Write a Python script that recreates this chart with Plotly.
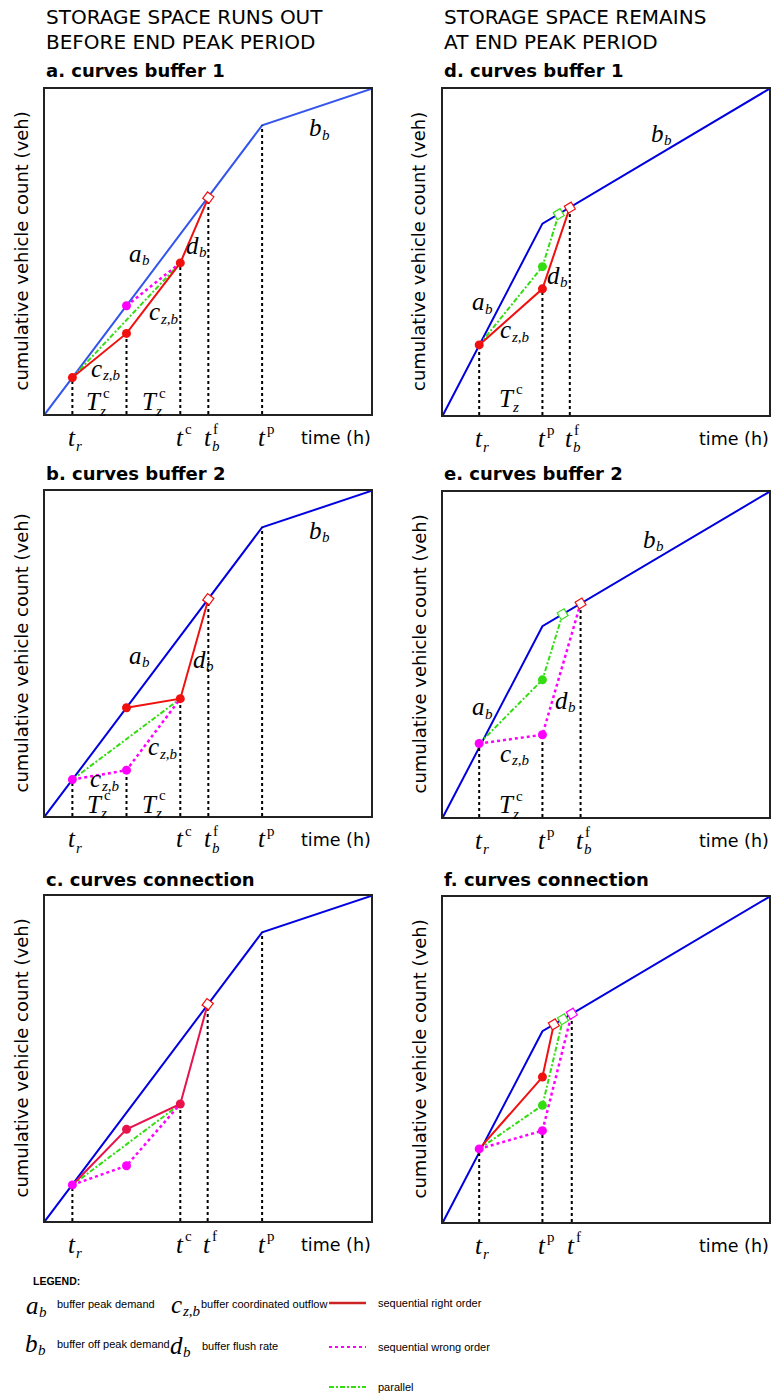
import plotly.graph_objects as go

W, H = 773, 1398

# ---------------- data (schematic units 0..10) ----------------
BLUE_LEFT_X = [0, 6.66, 10]
BLUE_LEFT_Y = [0, 8.88, 10]
BLUE_RIGHT_X = [0, 3.05, 10]
BLUE_RIGHT_Y = [0, 5.87, 10]

# panel a
a_red_x = [0.84, 2.5, 4.15, 5.01]
a_red_y = [1.12, 2.48, 4.65, 6.66]
a_mag_x = [2.5, 4.15]
a_mag_y = [3.33, 4.65]
a_grn_x = [0.84, 4.15]
a_grn_y = [1.12, 4.65]
a_reddot_x = [0.84, 2.5, 4.15]
a_reddot_y = [1.12, 2.48, 4.65]
a_magdot_x = [2.5]
a_magdot_y = [3.33]
a_diam_x = [5.01]
a_diam_y = [6.66]
a_vl_x = [0.84, 2.5, 4.15, 5.01, 6.66]
a_vl_top = [1.12, 2.48, 4.65, 6.66, 8.88]

# panel b
b_red_x = [2.5, 4.15, 5.01]
b_red_y = [3.33, 3.61, 6.67]
b_grn_x = [0.84, 4.15]
b_grn_y = [1.12, 3.61]
b_mag_x = [0.84, 2.5, 4.15]
b_mag_y = [1.12, 1.41, 3.61]
b_reddot_x = [2.5, 4.15]
b_reddot_y = [3.33, 3.61]
b_magdot_x = [0.84, 2.5]
b_magdot_y = [1.12, 1.41]
b_diam_x = [5.01]
b_diam_y = [6.67]
b_vl_x = [0.84, 2.5, 4.15, 5.01, 6.66]
b_vl_top = [1.12, 1.41, 3.61, 6.67, 8.88]

# panel c
c_red_x = [0.84, 2.5, 4.15, 4.99]
c_red_y = [1.11, 2.82, 3.6, 6.67]
c_grn_x = [0.84, 4.15]
c_grn_y = [1.11, 3.6]
c_mag_x = [0.84, 2.5, 4.15]
c_mag_y = [1.11, 1.7, 3.6]
c_reddot_x = [2.5, 4.15]
c_reddot_y = [2.82, 3.6]
c_magdot_x = [0.84, 2.5]
c_magdot_y = [1.11, 1.7]
c_diam_x = [4.99]
c_diam_y = [6.67]
c_vl_x = [0.84, 4.15, 4.99, 6.66]
c_vl_top = [1.11, 3.6, 6.67, 8.88]

# panel d
d_red_x = [1.11, 3.05, 3.89]
d_red_y = [2.15, 3.87, 6.36]
d_grn_x = [1.11, 3.05, 3.55]
d_grn_y = [2.15, 4.55, 6.16]
d_reddot_x = [1.11, 3.05]
d_reddot_y = [2.15, 3.87]
d_grndot_x = [3.05]
d_grndot_y = [4.55]
d_diam_red_x = [3.89]
d_diam_red_y = [6.36]
d_diam_grn_x = [3.55]
d_diam_grn_y = [6.16]
d_vl_x = [1.11, 3.05, 3.89]
d_vl_top = [2.15, 3.87, 6.36]

# panel e
e_grn_x = [1.11, 3.05, 3.67]
e_grn_y = [2.26, 4.22, 6.24]
e_mag_x = [1.11, 3.05, 4.22]
e_mag_y = [2.26, 2.53, 6.57]
e_grndot_x = [3.05]
e_grndot_y = [4.22]
e_magdot_x = [1.11, 3.05]
e_magdot_y = [2.26, 2.53]
e_diam_red_x = [4.22]
e_diam_red_y = [6.57]
e_diam_grn_x = [3.67]
e_diam_grn_y = [6.24]
e_vl_x = [1.11, 3.05, 4.22]
e_vl_top = [2.26, 2.53, 6.57]

# panel f
f_red_x = [1.11, 3.05, 3.4]
f_red_y = [2.25, 4.46, 6.08]
f_grn_x = [1.11, 3.05, 3.68]
f_grn_y = [2.25, 3.59, 6.24]
f_mag_x = [1.11, 3.05, 3.95]
f_mag_y = [2.25, 2.81, 6.41]
f_reddot_x = [3.05]
f_reddot_y = [4.46]
f_grndot_x = [3.05]
f_grndot_y = [3.59]
f_magdot_x = [1.11, 3.05]
f_magdot_y = [2.25, 2.81]
f_diam_red_x = [3.4]
f_diam_red_y = [6.08]
f_diam_grn_x = [3.68]
f_diam_grn_y = [6.24]
f_diam_mag_x = [3.95]
f_diam_mag_y = [6.41]
f_vl_x = [1.11, 3.05, 3.95]
f_vl_top = [2.25, 2.81, 6.41]

# ---------------- styles ----------------
BLUE = "#0000e0"
BLUE_A = "#3355ee"
RED = "#f01010"
CRIMSON = "#e8124c"
MAG = "#ff00ff"
GRN = "#33dd11"
SERIF = "Liberation Serif, DejaVu Serif, serif"
SANS = "DejaVu Sans, Verdana, sans-serif"
LSANS = "Liberation Sans, Arial, sans-serif"
DASHDOT = "5px,2px,2px,2px"

fig = go.Figure()

# panel px boxes: (left, top, right, bottom)
boxes = {
    1: (45, 89, 371, 414),    # a
    2: (45, 491, 371, 816),   # b
    3: (45, 896, 371, 1221),  # c
    4: (443, 89, 769, 415),   # d
    5: (443, 492, 769, 817),  # e
    6: (443, 897, 769, 1222), # f
}

layout_axes = {}
for i, (l, t, r, b) in boxes.items():
    sfx = "" if i == 1 else str(i)
    common = dict(range=[0, 10], showgrid=False, zeroline=False, showticklabels=False,
                  ticks="", showline=True, mirror=True, linecolor="#222", linewidth=1.5,
                  fixedrange=True)
    layout_axes["xaxis" + sfx] = dict(domain=[l / W, r / W], anchor="y" + sfx, **common)
    layout_axes["yaxis" + sfx] = dict(domain=[1 - b / H, 1 - t / H], anchor="x" + sfx, **common)


def refs(i):
    s = "" if i == 1 else str(i)
    return "x" + s, "y" + s


def line(i, x, y, color, width=2, dash="solid"):
    xr, yr = refs(i)
    fig.add_trace(go.Scatter(x=x, y=y, mode="lines", xaxis=xr, yaxis=yr,
                             line=dict(color=color, width=width, dash=dash),
                             showlegend=False, hoverinfo="skip"))


def dots(i, x, y, color, size=9):
    xr, yr = refs(i)
    fig.add_trace(go.Scatter(x=x, y=y, mode="markers", xaxis=xr, yaxis=yr,
                             marker=dict(color=color, size=size, line=dict(width=0)),
                             showlegend=False, hoverinfo="skip"))


def diam(i, x, y, color, angle):
    xr, yr = refs(i)
    fig.add_trace(go.Scatter(x=x, y=y, mode="markers", xaxis=xr, yaxis=yr,
                             marker=dict(symbol="square", color="white", size=8, angle=angle,
                                         line=dict(color=color, width=1.2)),
                             showlegend=False, hoverinfo="skip"))


def vlines(i, xs, tops):
    vx, vy = [], []
    for xv, tv in zip(xs, tops):
        vx += [xv, xv, None]
        vy += [0, tv, None]
    line(i, vx, vy, "black", width=2, dash="dot")


# --- panel a ---
line(1, BLUE_LEFT_X, BLUE_LEFT_Y, BLUE_A, 2)
vlines(1, a_vl_x, a_vl_top)
line(1, a_grn_x, a_grn_y, GRN, 2, DASHDOT)
line(1, a_mag_x, a_mag_y, MAG, 2.5, "dot")
line(1, a_red_x, a_red_y, RED, 2)
dots(1, a_reddot_x, a_reddot_y, RED)
dots(1, a_magdot_x, a_magdot_y, MAG)
diam(1, a_diam_x, a_diam_y, RED, -53)

# --- panel b ---
line(2, BLUE_LEFT_X, BLUE_LEFT_Y, BLUE, 2)
vlines(2, b_vl_x, b_vl_top)
line(2, b_grn_x, b_grn_y, GRN, 2, DASHDOT)
line(2, b_mag_x, b_mag_y, MAG, 2.5, "dot")
line(2, b_red_x, b_red_y, RED, 2)
dots(2, b_reddot_x, b_reddot_y, RED)
dots(2, b_magdot_x, b_magdot_y, MAG)
diam(2, b_diam_x, b_diam_y, RED, -53)

# --- panel c ---
line(3, BLUE_LEFT_X, BLUE_LEFT_Y, BLUE, 2)
vlines(3, c_vl_x, c_vl_top)
line(3, c_grn_x, c_grn_y, GRN, 2, DASHDOT)
line(3, c_mag_x, c_mag_y, MAG, 2.5, "dot")
line(3, c_red_x, c_red_y, CRIMSON, 2)
dots(3, c_reddot_x, c_reddot_y, CRIMSON)
dots(3, c_magdot_x, c_magdot_y, MAG)
diam(3, c_diam_x, c_diam_y, RED, -53)

# --- panel d ---
line(4, BLUE_RIGHT_X, BLUE_RIGHT_Y, BLUE, 2)
vlines(4, d_vl_x, d_vl_top)
line(4, d_grn_x, d_grn_y, GRN, 2, DASHDOT)
line(4, d_red_x, d_red_y, RED, 2)
dots(4, d_reddot_x, d_reddot_y, RED)
dots(4, d_grndot_x, d_grndot_y, GRN)
diam(4, d_diam_grn_x, d_diam_grn_y, GRN, -31)
diam(4, d_diam_red_x, d_diam_red_y, RED, -31)

# --- panel e ---
line(5, BLUE_RIGHT_X, BLUE_RIGHT_Y, BLUE, 2)
vlines(5, e_vl_x, e_vl_top)
line(5, e_grn_x, e_grn_y, GRN, 2, DASHDOT)
line(5, e_mag_x, e_mag_y, MAG, 2.5, "dot")
dots(5, e_grndot_x, e_grndot_y, GRN)
dots(5, e_magdot_x, e_magdot_y, MAG)
diam(5, e_diam_grn_x, e_diam_grn_y, GRN, -31)
diam(5, e_diam_red_x, e_diam_red_y, RED, -31)

# --- panel f ---
line(6, BLUE_RIGHT_X, BLUE_RIGHT_Y, BLUE, 2)
vlines(6, f_vl_x, f_vl_top)
line(6, f_grn_x, f_grn_y, GRN, 2, DASHDOT)
line(6, f_mag_x, f_mag_y, MAG, 2.5, "dot")
line(6, f_red_x, f_red_y, RED, 2)
dots(6, f_reddot_x, f_reddot_y, RED)
dots(6, f_grndot_x, f_grndot_y, GRN)
dots(6, f_magdot_x, f_magdot_y, MAG)
diam(6, f_diam_red_x, f_diam_red_y, RED, -31)
diam(6, f_diam_grn_x, f_diam_grn_y, GRN, -31)
diam(6, f_diam_mag_x, f_diam_mag_y, MAG, -31)

# ---------------- text ----------------
ann = []
BASE = 25


def mlab(xr, yr, x, y, base, sub=None, sup=None, size=BASE, sub_dy=-7, sup_dy=8, sub_dx=0):
    sm = round(size * 0.6)
    ann.append(dict(xref=xr, yref=yr, x=x, y=y, text=f"<i>{base}</i>", xanchor="right",
                    yanchor="middle", showarrow=False, borderpad=0,
                    font=dict(family=SERIF, size=size, color="black")))
    if sub:
        ann.append(dict(xref=xr, yref=yr, x=x, y=y, text=f"<i>{sub}</i>", xanchor="left",
                        yanchor="middle", showarrow=False, yshift=sub_dy, xshift=sub_dx - 2, borderpad=0,
                        font=dict(family=SERIF, size=sm, color="black")))
    if sup:
        ann.append(dict(xref=xr, yref=yr, x=x, y=y, text=sup, xanchor="left",
                        yanchor="middle", showarrow=False, yshift=sup_dy, xshift=-1, borderpad=0,
                        font=dict(family=SERIF, size=sm, color="black")))


def ptxt(px, py, text, size, family=SANS, bold=False, xanchor="left", angle=0, color="black"):
    if bold:
        text = f"<b>{text}</b>"
    ann.append(dict(xref="paper", yref="paper", x=px / W, y=1 - py / H, text=text,
                    xanchor=xanchor, yanchor="middle", showarrow=False, textangle=angle,
                    borderpad=0, font=dict(family=family, size=size, color=color)))


# headers
ptxt(45, 17, "STORAGE SPACE RUNS OUT", 20)
ptxt(45, 42, "BEFORE END PEAK PERIOD", 20)
ptxt(443, 17, "STORAGE SPACE REMAINS", 20)
ptxt(443, 42, "AT END PEAK PERIOD", 20)

# panel titles
titles = {1: "a. curves buffer 1", 2: "b. curves buffer 2", 3: "c. curves connection",
          4: "d. curves buffer 1", 5: "e. curves buffer 2", 6: "f. curves connection"}
title_y = {1: 71, 2: 473, 3: 879, 4: 71, 5: 473, 6: 879}
for i, t in titles.items():
    l, tp, r, b = boxes[i]
    ptxt(l, title_y[i], t, 18, bold=True)
    ptxt(l - 24, (tp + b) / 2, "cumulative vehicle count (veh)", 18, xanchor="center", angle=-90)
    ptxt(r + 1, b + 24, "time (h)", 17.5, xanchor="right")

TY_PX = 23      # pixels below the axis for the t labels
TOFF = 0.14
TS = 25
for i, xs, labs in [
    (1, [a_vl_x[0], a_vl_x[2], a_vl_x[3], a_vl_x[4]], [("r", None), (None, "c"), ("b", "f"), (None, "p")]),
    (2, [b_vl_x[0], b_vl_x[2], b_vl_x[3], b_vl_x[4]], [("r", None), (None, "c"), ("b", "f"), (None, "p")]),
    (3, [c_vl_x[0], c_vl_x[1], c_vl_x[2], c_vl_x[3]], [("r", None), (None, "c"), (None, "f"), (None, "p")]),
    (4, [d_vl_x[0], d_vl_x[1], d_vl_x[2]], [("r", None), (None, "p"), ("b", "f")]),
    (5, [e_vl_x[0], e_vl_x[1], e_vl_x[2]], [("r", None), (None, "p"), ("b", "f")]),
    (6, [f_vl_x[0], f_vl_x[1], f_vl_x[2]], [("r", None), (None, "p"), (None, "f")]),
]:
    xr, yr = refs(i)
    l, tp, r, b = boxes[i]
    for xv, (sb, sp) in zip(xs, labs):
        mlab(xr, "paper", xv + TOFF, 1 - (b + TY_PX) / H, "t", sb, sp, size=TS, sub_dy=-9, sup_dy=8)

# in-plot labels
for i, pos in [
    (1, dict(a=(3.0, 4.95), d=(4.75, 5.2), b=(8.54, 8.8), c=[(3.57, 3.15), (1.77, 1.41)],
             T=[(1.77, 0.38), (3.51, 0.38)])),
    (2, dict(a=(3.0, 4.95), d=(4.98, 4.82), b=(8.54, 8.8), c=[(3.53, 2.13), (1.75, 1.14)],
             T=[(1.8, 0.36), (3.51, 0.36)])),
    (4, dict(a=(1.31, 3.48), d=(3.61, 4.29), b=(6.8, 8.64), c=[(2.13, 2.61)], T=[(2.24, 0.51)])),
    (5, dict(a=(1.31, 3.39), d=(3.87, 3.6), b=(6.57, 8.54), c=[(2.13, 1.96)], T=[(2.24, 0.37)])),
]:
    xr, yr = refs(i)
    mlab(xr, yr, *pos["a"], "a", "b")
    mlab(xr, yr, *pos["d"], "d", "b")
    mlab(xr, yr, *pos["b"], "b", "b")
    for cx, cy in pos["c"]:
        mlab(xr, yr, cx, cy, "c", "z,b")
    for tx, ty in pos["T"]:
        mlab(xr, yr, tx, ty, "T", "z", "c", sub_dy=-9, sup_dy=9, sub_dx=-3)

# ---------------- legend ----------------
ptxt(32, 1281, "LEGEND:", 10.5, family=LSANS, bold=True)
mlab("paper", "paper", 40 / W, 1 - 1305 / H, "a", "b")
mlab("paper", "paper", 183 / W, 1 - 1304 / H, "c", "z,b")
mlab("paper", "paper", 39 / W, 1 - 1343 / H, "b", "b")
mlab("paper", "paper", 184 / W, 1 - 1345 / H, "d", "b")
LS = 11
ptxt(56, 1304, "buffer peak demand", LS, family=LSANS)
ptxt(200, 1304, "buffer coordinated outflow", LS, family=LSANS)
ptxt(377, 1303, "sequential right order", LS, family=LSANS)
ptxt(56, 1344, "buffer off peak demand", LS, family=LSANS)
ptxt(201, 1346, "buffer flush rate", LS, family=LSANS)
ptxt(377, 1347, "sequential wrong order", LS, family=LSANS)
ptxt(377, 1387, "parallel", LS, family=LSANS)

shapes = []
for yy, col, dash, wd in [(1303, "#cc2222", "solid", 2.5), (1347, MAG, "dot", 2), (1387, GRN, DASHDOT, 2)]:
    shapes.append(dict(type="line", xref="paper", yref="paper", x0=329 / W, x1=366 / W,
                       y0=1 - yy / H, y1=1 - yy / H, line=dict(color=col, width=wd, dash=dash)))

fig.update_layout(width=W, height=H, margin=dict(l=0, r=0, t=0, b=0),
                  paper_bgcolor="white", plot_bgcolor="white",
                  annotations=ann, shapes=shapes, showlegend=False, **layout_axes)

fig.write_html("out.html")
